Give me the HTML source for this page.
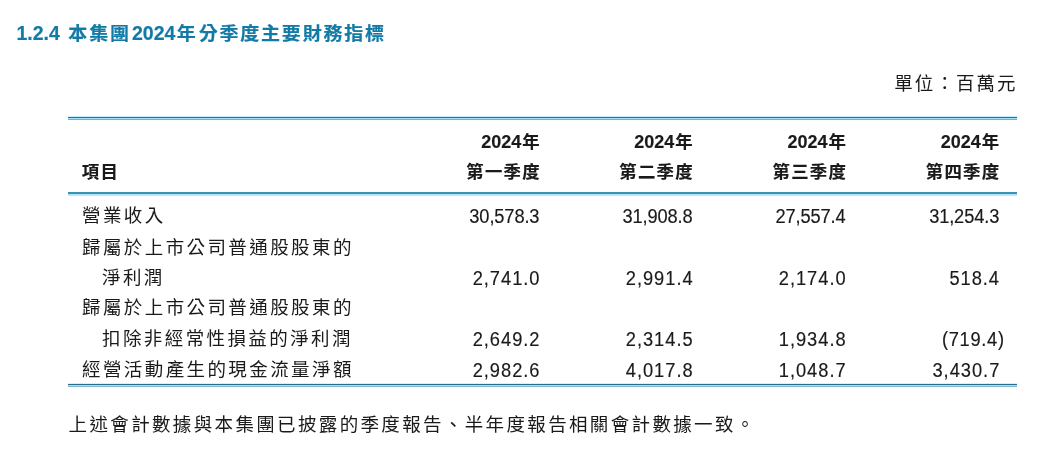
<!DOCTYPE html>
<html lang="zh-Hant">
<head>
<meta charset="utf-8">
<title>1.2.4 本集團2024年分季度主要財務指標</title>
<style>
html,body{margin:0;padding:0;background:#fff;}
body{width:1040px;height:451px;position:relative;overflow:hidden;
  font-family:"Liberation Sans","Noto Sans CJK TC",sans-serif;color:#1a1a1a;}
.t{position:absolute;white-space:nowrap;line-height:1;}
.title{transform:scaleY(0.93);transform-origin:0 50%;left:16.5px;top:23.6px;font-size:19px;font-weight:bold;color:#127aa6;letter-spacing:1.8px;-webkit-text-stroke:0.2px #127aa6;}
.title b{font-size:19.5px;letter-spacing:0;display:inline-block;transform:scaleY(1.075);transform-origin:0 80%;}
.unit{right:22.4px;top:74.5px;font-size:18.5px;letter-spacing:2.05px;}
.hd{font-size:17.4px;font-weight:bold;letter-spacing:1.23px;-webkit-text-stroke:0.15px #1a1a1a;}
.hd b{font-size:18px;letter-spacing:0;margin-right:0.9px;position:relative;top:0px;}
.hr{right:calc(1040px - var(--R) - 1.23px - 0.2px);text-align:right;}
.row{font-size:18.5px;letter-spacing:2.41px;}
.num{-webkit-text-stroke:0.15px #1a1a1a;transform:scaleY(1.055);transform-origin:0 84.65%;font-size:18.3px;letter-spacing:var(--ls);right:calc(1040px - var(--R) - var(--ls));text-align:right;}
.line{position:absolute;left:68px;width:949px;}
.foot{left:68.6px;top:416px;font-size:18.5px;letter-spacing:2.35px;}
</style>
</head>
<body>
<div class="t title"><b style="margin-right:1.4px">1.2.4</b> 本集團<b style="margin:0 1.5px 0 1.2px">2024</b>年<span style="margin-left:1px">分季度主要財務指標</span></div>
<div class="t unit">單位：百萬元</div>

<div class="line" style="top:116px;height:1px;background:#c8edfc"></div>
<div class="line" style="top:117px;height:1px;background:#297193"></div>
<div class="line" style="top:118px;height:1px;background:#a5e2fb"></div>
<div class="line" style="top:119px;height:1px;background:#78b0c8"></div>

<div class="t hd hr" style="--R:539.4px;top:132.6px"><b>2024</b>年</div>
<div class="t hd hr" style="--R:692.4px;top:132.6px"><b>2024</b>年</div>
<div class="t hd hr" style="--R:845.6px;top:132.6px"><b>2024</b>年</div>
<div class="t hd hr" style="--R:998.9px;top:132.6px"><b>2024</b>年</div>
<div class="t hd" style="left:81.8px;top:164.1px">項目</div>
<div class="t hd hr" style="--R:539.4px;top:164.1px">第一季度</div>
<div class="t hd hr" style="--R:692.4px;top:164.1px">第二季度</div>
<div class="t hd hr" style="--R:845.6px;top:164.1px">第三季度</div>
<div class="t hd hr" style="--R:998.9px;top:164.1px">第四季度</div>

<div class="line" style="top:192px;height:2px;background:#3d93ae"></div>
<div class="line" style="top:194px;height:1px;background:#aee2f9"></div>
<div class="line" style="top:195px;height:1px;background:#cbe4f5"></div>

<div class="t row" style="left:82px;top:207.00px">營業收入</div>
<div class="t num" style="--R:539.5px;--ls:-0.14px;top:208.00px">30,578.3</div>
<div class="t num" style="--R:692.6px;--ls:-0.14px;top:208.00px">31,908.8</div>
<div class="t num" style="--R:845.6px;--ls:-0.14px;top:208.00px">27,557.4</div>
<div class="t num" style="--R:999.3px;--ls:-0.14px;top:208.00px">31,254.3</div>
<div class="t row" style="left:82px;top:239.00px">歸屬於上市公司普通股股東的</div>
<div class="t row" style="left:102px;top:269.00px">淨利潤</div>
<div class="t num" style="--R:539.5px;--ls:0.98px;top:270.00px">2,741.0</div>
<div class="t num" style="--R:692.6px;--ls:0.98px;top:270.00px">2,991.4</div>
<div class="t num" style="--R:845.6px;--ls:0.98px;top:270.00px">2,174.0</div>
<div class="t num" style="--R:998.85px;--ls:0.9px;top:270.00px">518.4</div>
<div class="t row" style="left:82px;top:299.00px">歸屬於上市公司普通股股東的</div>
<div class="t row" style="left:102px;top:330.00px">扣除非經常性損益的淨利潤</div>
<div class="t num" style="--R:539.5px;--ls:0.98px;top:331.00px">2,649.2</div>
<div class="t num" style="--R:692.6px;--ls:0.98px;top:331.00px">2,314.5</div>
<div class="t num" style="--R:845.6px;--ls:0.98px;top:331.00px">1,934.8</div>
<div class="t num" style="--R:1004.0px;--ls:0.7px;top:331.00px">(719.4)</div>
<div class="t row" style="left:82px;top:361.00px">經營活動產生的現金流量淨額</div>
<div class="t num" style="--R:539.5px;--ls:0.98px;top:362.00px">2,982.6</div>
<div class="t num" style="--R:692.6px;--ls:0.98px;top:362.00px">4,017.8</div>
<div class="t num" style="--R:845.6px;--ls:0.98px;top:362.00px">1,048.7</div>
<div class="t num" style="--R:999.3px;--ls:0.98px;top:362.00px">3,430.7</div>

<div class="line" style="top:383px;height:1px;background:#d4f1fc"></div>
<div class="line" style="top:384px;height:1px;background:#2a6f8a"></div>
<div class="line" style="top:385px;height:1px;background:#9de4fc"></div>
<div class="line" style="top:386px;height:1px;background:#7fb7d0"></div>

<div class="t foot">上述會計數據與本集團已披露的季度報告、半年度報告相關會計數據一致。</div>
</body>
</html>
